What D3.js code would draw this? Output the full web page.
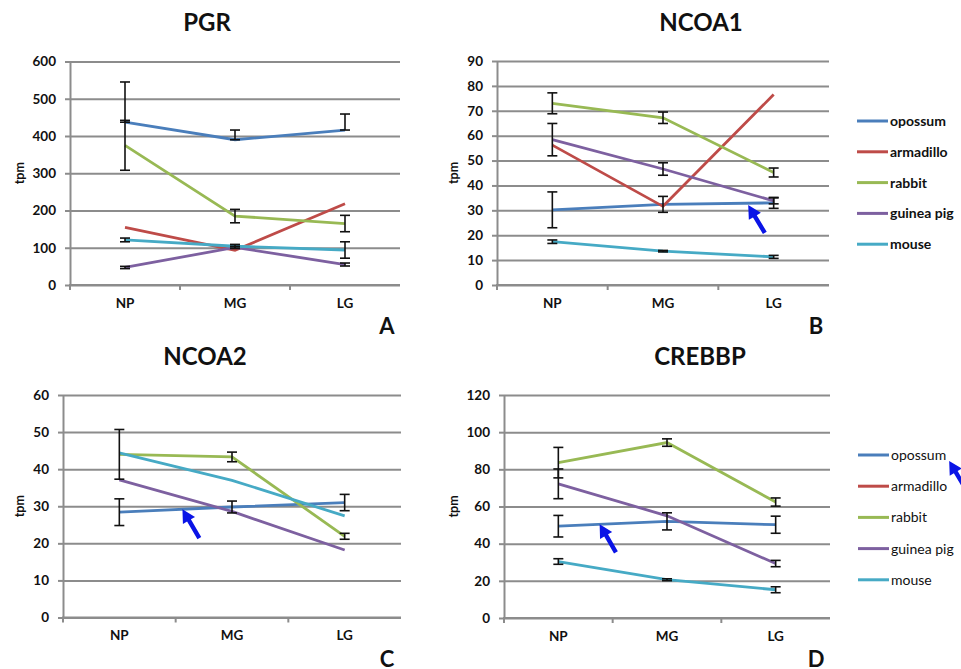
<!DOCTYPE html>
<html>
<head>
<meta charset="utf-8">
<script src="https://cdn.jsdelivr.net/npm/d3@7"></script>
<style>
  body { margin: 0; background: #fff; }
  text { font-family: Lato, "Open Sans", sans-serif; }
</style>
</head>
<body>
<svg id="chart" width="961" height="669"></svg>
<script>
var categories = ["NP", "MG", "LG"];
var species = ["opossum", "armadillo", "rabbit", "guinea pig", "mouse"];
var colors = ["#4a7ebb", "#be4b48", "#98b954", "#7d60a0", "#46aac5"];

// PGR (A) - rows follow species order
var pgrValues = [[437, 390, 416], [155, 93, 218], [375, 185, 165], [47, 101, 55], [121, 104, 94]];
var pgrErrPlus = [[108, 26, 43], [0, 0, 0], [67, 18, 22], [3, 3, 4], [5, 5, 22]];
var pgrErrMinus = [[0, 0, 0], [0, 0, 0], [67, 18, 22], [3, 3, 4], [5, 5, 22]];

// NCOA1 (B)
var ncoa1Values = [[30.2, 32.4, 33.0], [56.2, 31.6, 76.5], [73.0, 67.2, 45.2], [58.4, 46.6, 33.8], [17.4, 13.6, 11.3]];
var ncoa1Err = [[7.2, 3.2, 2.2], [0, 0, 0], [4.2, 2.3, 1.8], [6.5, 2.5, 1.2], [0.7, 0.3, 0.6]];

// NCOA2 (C) - no armadillo
var ncoa2Values = [[28.4, 29.8, 31.0], null, [44.0, 43.3, 21.9], [37.1, 28.6, 18.2], [44.4, 37.0, 27.4]];
var ncoa2Err = [[3.6, 1.6, 2.2], null, [6.7, 1.3, 0.8], [0, 0, 0], [0, 0, 0]];

// CREBBP (D) - no armadillo
var crebbpValues = [[49.4, 52.0, 50.2], null, [83.6, 94.4, 62.4], [72.2, 55.0, 29.3], [30.4, 20.6, 15.2]];
var crebbpErr = [[5.8, 4.6, 4.6], null, [8.2, 2.0, 2.2], [8.0, 0, 1.7], [1.5, 0.5, 1.6]];

// arrows: [category position (0 = NP), value] for tip and tail
var arrowB = [[1.77, 32.1], [1.92, 20.9]];
var arrowC = [[0.56, 29.2], [0.71, 21.4]];
var arrowD = [[0.38, 50.5], [0.53, 35.3]];

var svg = d3.select("#chart");
var grey = "#8c8c8c";

var panels = [
  {title: "PGR", letter: "A", values: pgrValues, plus: pgrErrPlus, minus: pgrErrMinus,
   max: 600, step: 100, left: 70, right: 400, top: 61.5, bottom: 285, titleX: 207, titleY: 31, letterX: 387, letterY: 334},
  {title: "NCOA1", letter: "B", values: ncoa1Values, plus: ncoa1Err, minus: ncoa1Err, arrow: arrowB,
   max: 90, step: 10, left: 497, right: 829, top: 61, bottom: 285, titleX: 701, titleY: 31, letterX: 816, letterY: 334},
  {title: "NCOA2", letter: "C", values: ncoa2Values, plus: ncoa2Err, minus: ncoa2Err, arrow: arrowC,
   max: 60, step: 10, left: 63, right: 401, top: 395, bottom: 617.5, titleX: 205, titleY: 365, letterX: 387, letterY: 667},
  {title: "CREBBP", letter: "D", values: crebbpValues, plus: crebbpErr, minus: crebbpErr, arrow: arrowD,
   max: 120, step: 20, left: 504, right: 830, top: 395, bottom: 618, titleX: 700, titleY: 365, letterX: 816, letterY: 667}
];

function arrowPath(tip, tail) {
  var dx = tail[0] - tip[0], dy = tail[1] - tip[1];
  var len = Math.sqrt(dx * dx + dy * dy);
  var ux = dx / len, uy = dy / len, px = -uy, py = ux;
  var headL = 13, headW = 7, shaftW = 2.2;
  var bx = tip[0] + ux * headL, by = tip[1] + uy * headL;
  var pts = [
    tip,
    [bx + px * headW, by + py * headW],
    [bx + px * shaftW, by + py * shaftW],
    [tail[0] + px * shaftW, tail[1] + py * shaftW],
    [tail[0] - px * shaftW, tail[1] - py * shaftW],
    [bx - px * shaftW, by - py * shaftW],
    [bx - px * headW, by - py * headW]
  ];
  return "M" + pts.map(function(p) { return p[0] + "," + p[1]; }).join("L") + "Z";
}

function plotPanel(p) {
  var x = d3.scaleBand().domain(categories).range([p.left, p.right]),
      y = d3.scaleLinear().domain([0, p.max]).range([p.bottom, p.top]),
      g = svg.append("g"),
      ticks = d3.range(0, p.max + p.step / 2, p.step);

  function cx(i) { return x.range()[0] + x.step() * (i + 0.5); }

  // gridlines
  g.append("g")
    .attr("transform", "translate(" + p.left + ",0)")
    .call(d3.axisLeft(y).tickValues(ticks).tickSizeInner(-(p.right - p.left)).tickSizeOuter(0).tickFormat(""))
    .call(function(a) {
      a.select(".domain").remove();
      a.selectAll("line").attr("stroke", grey).attr("stroke-width", 2);
    });

  // y axis with labels
  var yAxis = g.append("g")
    .attr("transform", "translate(" + p.left + ",0)")
    .call(d3.axisLeft(y).tickValues(ticks).tickSizeInner(5).tickSizeOuter(0).tickPadding(9))
    .call(function(a) {
      a.select(".domain").attr("stroke", grey).attr("stroke-width", 2);
      a.selectAll("line").attr("stroke", grey).attr("stroke-width", 2);
      a.selectAll("text").attr("fill", "#111").style("font-size", "13.5px").style("font-weight", "bold")
        .style("font-family", "Lato, sans-serif");
    });

  // x axis: ticks between categories, labels centered
  g.append("line")
    .attr("x1", p.left - 1).attr("x2", p.right)
    .attr("y1", p.bottom).attr("y2", p.bottom)
    .attr("stroke", grey).attr("stroke-width", 2);
  g.selectAll(".xtick").data(d3.range(categories.length)).enter().append("line")
    .attr("x1", function(i) { return x.range()[0] + x.step() * i; })
    .attr("x2", function(i) { return x.range()[0] + x.step() * i; })
    .attr("y1", p.bottom).attr("y2", p.bottom + 5)
    .attr("stroke", grey).attr("stroke-width", 2);
  g.append("g")
    .attr("transform", "translate(0," + p.bottom + ")")
    .call(d3.axisBottom(x).tickSize(0).tickPadding(13))
    .call(function(a) {
      a.select(".domain").remove();
      a.selectAll("text").attr("fill", "#111").style("font-size", "13.5px").style("font-weight", "bold")
        .style("font-family", "Lato, sans-serif");
    });

  // tpm label
  var bb = yAxis.node().getBBox();
  g.append("text")
    .attr("transform", "translate(" + (p.left + bb.x - 9) + "," + ((p.top + p.bottom) / 2) + ") rotate(-90)")
    .attr("text-anchor", "middle")
    .style("font-size", "12.5px").style("font-weight", "bold").attr("fill", "#111")
    .text("tpm");

  // series lines
  var line = d3.line()
    .x(function(d, i) { return cx(i); })
    .y(function(d) { return y(d); });

  var series = species.map(function(s, k) {
    return {id: s, color: colors[k], values: p.values[k], plus: p.plus[k], minus: p.minus[k]};
  }).filter(function(d) { return d.values; });

  g.selectAll(".line").data(series).enter().append("path")
    .attr("class", "line")
    .attr("d", function(d) { return line(d.values); })
    .attr("fill", "none")
    .attr("stroke", function(d) { return d.color; })
    .attr("stroke-width", 2.8);

  // error bars
  var bars = [];
  series.forEach(function(s) {
    s.values.forEach(function(v, i) {
      if (s.plus[i] > 0 || s.minus[i] > 0)
        bars.push({i: i, lo: v - s.minus[i], hi: v + s.plus[i]});
    });
  });
  var eb = g.selectAll(".err").data(bars).enter().append("g").attr("class", "err")
    .attr("stroke", "#111").attr("stroke-width", 1.6);
  eb.append("line")
    .attr("x1", function(d) { return cx(d.i); }).attr("x2", function(d) { return cx(d.i); })
    .attr("y1", function(d) { return y(d.lo); }).attr("y2", function(d) { return y(d.hi); });
  eb.append("line")
    .attr("x1", function(d) { return cx(d.i) - 5; }).attr("x2", function(d) { return cx(d.i) + 5; })
    .attr("y1", function(d) { return y(d.hi); }).attr("y2", function(d) { return y(d.hi); });
  eb.append("line")
    .attr("x1", function(d) { return cx(d.i) - 5; }).attr("x2", function(d) { return cx(d.i) + 5; })
    .attr("y1", function(d) { return y(d.lo); }).attr("y2", function(d) { return y(d.lo); });

  // title and panel letter
  svg.append("text")
    .attr("x", p.titleX).attr("y", p.titleY)
    .attr("text-anchor", "middle")
    .style("font-size", "24px").style("font-weight", "bold").attr("fill", "#111")
    .text(p.title);
  svg.append("text")
    .attr("x", p.letterX).attr("y", p.letterY)
    .attr("text-anchor", "middle")
    .style("font-size", "22px").style("font-weight", "bold").attr("fill", "#111")
    .text(p.letter);

  if (p.arrow) {
    var tip = [cx(p.arrow[0][0]), y(p.arrow[0][1])],
        tail = [cx(p.arrow[1][0]), y(p.arrow[1][1])];
    svg.append("path").attr("d", arrowPath(tip, tail)).attr("fill", "#0a14e6");
  }
}

panels.forEach(plotPanel);

// legends
function plotLegend(x0, y0, gap, weight) {
  var lg = svg.append("g").attr("transform", "translate(" + x0 + "," + y0 + ")");
  var item = lg.selectAll(".item").data(species).enter().append("g")
    .attr("transform", function(d, i) { return "translate(0," + (i * gap) + ")"; });
  item.append("line")
    .attr("x1", 0).attr("x2", 31).attr("y1", 0).attr("y2", 0)
    .attr("stroke", function(d, i) { return colors[i]; })
    .attr("stroke-width", 3);
  item.append("text")
    .attr("x", 33).attr("y", 0).attr("dy", "0.35em")
    .style("font-size", "14px").style("font-weight", weight).attr("fill", "#111")
    .text(function(d) { return d; });
  return item;
}
plotLegend(857, 121, 30.8, "bold");
var bottomLegend = plotLegend(858, 455, 31.2, "normal");

// arrow pointing at the opossum entry of the lower legend
var opText = bottomLegend.filter(function(d) { return d === "opossum"; }).select("text").node();
var ob = opText.getBBox();
var tipL = [858 + ob.x + ob.width + 3, 455 + ob.y + ob.height - 2];
svg.append("path").attr("d", arrowPath(tipL, [tipL[0] + 20, tipL[1] + 34])).attr("fill", "#0a14e6");
</script>
</body>
</html>
